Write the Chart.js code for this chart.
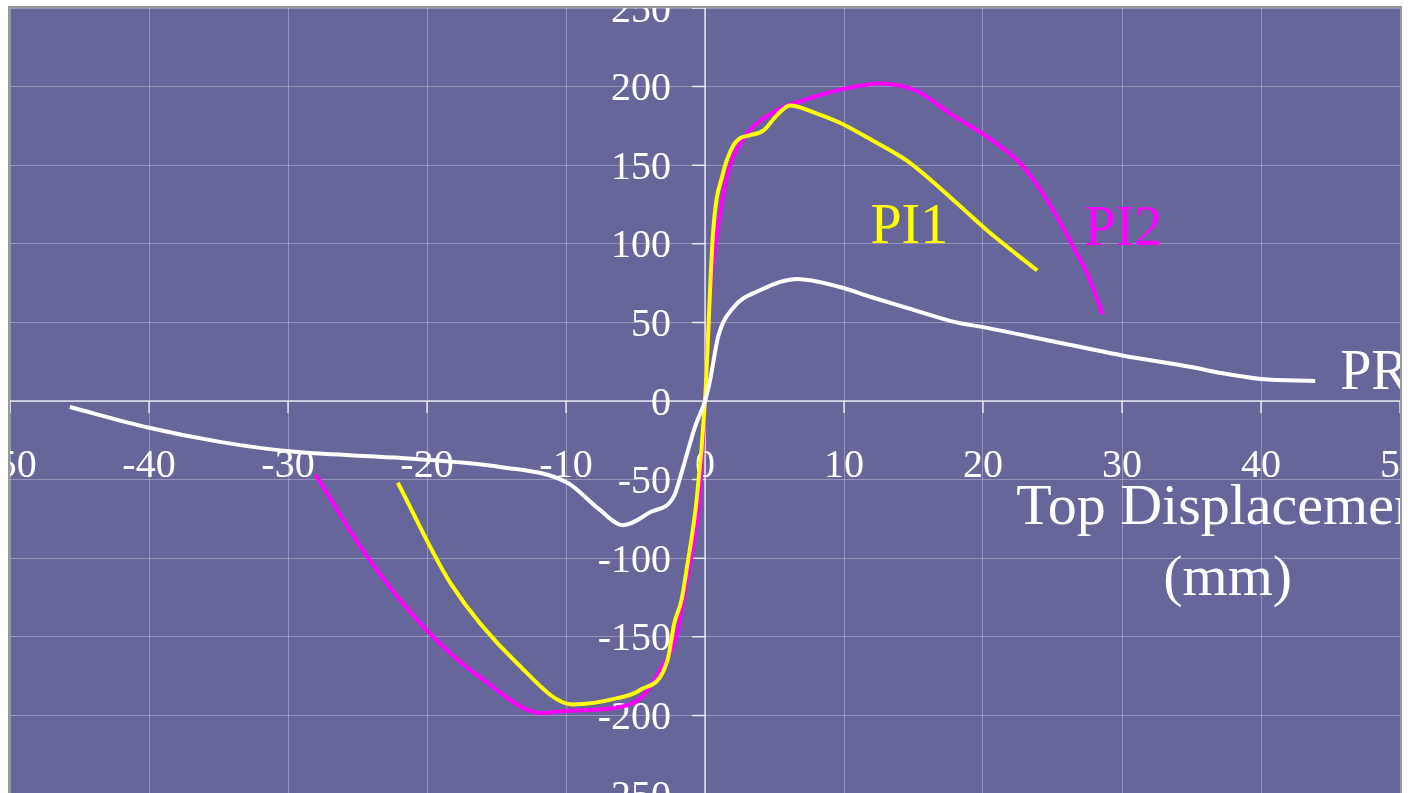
<!DOCTYPE html>
<html>
<head>
<meta charset="utf-8">
<script src="https://cdn.jsdelivr.net/npm/chart.js@4.4.1/dist/chart.umd.min.js"></script>
<style>
  html, body { margin: 0; padding: 0; background: #fff; overflow: hidden; }
  canvas { display: block; }
</style>
</head>
<body>
<canvas id="chart" width="1408" height="796"></canvas>
<script>
// axis ticks
const xTicks = [-50, -40, -30, -20, -10, 0, 10, 20, 30, 40, 50];
const yTicks = [-250, -200, -150, -100, -50, 0, 50, 100, 150, 200, 250];

// PR (white)
const prX = [-45.7, -40, -34.9, -29.9, -22.4, -14.7, -9.9, -7.6, -5.9, -4, -2.2, -1.7, -0.7, 0,
             0.36, 0.95, 2, 4, 6.6, 9.7, 12, 15, 18.1, 20, 25, 30, 35, 37, 40, 43.9];
const prY = [-3.8, -17, -26, -32, -36, -42, -52, -69, -79, -71, -60, -46, -16, 0,
             13, 41, 59, 70.6, 77.6, 72.5, 66, 58, 50, 47, 38, 29, 21.6, 18, 14, 12.7];

// PI1 (yellow)
const pi1X = [-22.1, -18.3, -13.5, -9.5, -6.3, -4.7, -2.7, -2.2, -1.7, -1.3, -0.6, 0,
              0.58, 1.3, 2, 2.5, 3.2, 4.2, 5.2, 6.1, 8, 9.7, 12, 14.5, 17.6, 20.5, 23.9];
const pi1Y = [-52, -116, -167, -193, -189, -184, -165, -141, -127, -106, -63, 0,
              107, 145, 162, 167, 169, 172, 182, 188, 183, 177, 166, 153, 130, 107, 83];

// PI2 (magenta)
const pi2X = [-28, -24.3, -20, -16, -11.7, -9.9, -6.3, -4.5, -3.2, -2, -1.6, -0.9, -0.4, 0,
              0.36, 0.8, 1.6, 2.7, 5.2, 7, 9.7, 12.6, 15.3, 17.6, 20.3, 22.7, 24.6, 26.5, 27.7, 28.6];
const pi2Y = [-47, -99, -146, -177, -198.5, -197, -195, -188, -171, -148, -128, -95, -63, 0,
              66, 102, 143, 166, 185, 191, 198, 202, 197, 183, 168, 151, 128, 98, 77, 55];

const seriesNames = ['PR', 'PI1', 'PI2'];
const axisTitle = ['Top Displacement', '(mm)'];

// colours
const C = {
  plot:    '#66669a',
  grid:    'rgba(255,255,255,0.3)',
  axis:    'rgba(255,255,255,0.8)',
  frame:   '#999999',
  text:    '#ffffff',
  pr:      '#ffffff',
  pi1:     '#ffff00',
  pi2:     '#ff00ff',
};
const FONT = "'Liberation Serif', 'Times New Roman', serif";

function toPoints(xs, ys) {
  return xs.map((x, i) => ({ x, y: ys[i] }));
}

function clipArea(ctx, a) {
  ctx.beginPath();
  ctx.rect(a.left, a.top, a.right - a.left, a.bottom - a.top);
  ctx.clip();
}

// ── background, zero axes, tick labels, annotations ─────────
const decor = {
  id: 'decor',
  beforeDraw(chart) {
    const { ctx, chartArea: a } = chart;
    ctx.save();
    ctx.fillStyle = C.plot;
    ctx.fillRect(a.left, a.top, a.right - a.left, a.bottom - a.top);
    ctx.restore();
  },
  beforeDatasetsDraw(chart) {
    const { ctx, chartArea: a, scales: { x, y } } = chart;
    const x0 = x.getPixelForValue(0), y0 = y.getPixelForValue(0);
    ctx.save();
    clipArea(ctx, a);

    ctx.strokeStyle = C.axis;
    ctx.lineWidth = 1.5;
    ctx.beginPath();
    ctx.moveTo(a.left, y0); ctx.lineTo(a.right, y0);
    ctx.moveTo(x0, a.top);  ctx.lineTo(x0, a.bottom);
    xTicks.forEach(v => {
      const px = x.getPixelForValue(v);
      ctx.moveTo(px, y0); ctx.lineTo(px, y0 + 12);
    });
    yTicks.forEach(v => {
      const py = y.getPixelForValue(v);
      ctx.moveTo(x0 - 13, py); ctx.lineTo(x0, py);
    });
    ctx.stroke();

    ctx.fillStyle = C.text;
    ctx.font = `40px ${FONT}`;
    ctx.textBaseline = 'alphabetic';
    ctx.textAlign = 'center';
    xTicks.forEach(v => ctx.fillText(String(v), x.getPixelForValue(v), y0 + 76));
    ctx.textAlign = 'right';
    yTicks.forEach(v => ctx.fillText(String(v), x0 - 34, y.getPixelForValue(v) + 13.5));
    ctx.restore();
  },
  afterDatasetsDraw(chart) {
    const { ctx, chartArea: a, scales: { x, y } } = chart;
    ctx.save();
    clipArea(ctx, a);
    ctx.textBaseline = 'alphabetic';

    // series names
    ctx.font = `56px ${FONT}`;
    ctx.textAlign = 'left';
    const spots = { PR: [45.7, 7.6, C.pr], PI1: [11.9, 100.5, C.pi1], PI2: [27.3, 99.2, C.pi2] };
    seriesNames.forEach(n => {
      const [vx, vy, col] = spots[n];
      ctx.fillStyle = col;
      ctx.fillText(n, x.getPixelForValue(vx), y.getPixelForValue(vy));
    });

    // axis title
    ctx.font = `58px ${FONT}`;
    ctx.textAlign = 'center';
    ctx.fillStyle = C.text;
    const tx = x.getPixelForValue(37.6);
    ctx.fillText(axisTitle[0], tx, y.getPixelForValue(-78.2));
    ctx.fillText(axisTitle[1], tx, y.getPixelForValue(-123.4));
    ctx.restore();

    // frame
    ctx.save();
    ctx.strokeStyle = C.frame;
    ctx.lineWidth = 2;
    ctx.strokeRect(a.left - 1, a.top - 1, a.right - a.left + 2, a.bottom - a.top + 2);
    ctx.restore();
  }
};

const lineStyle = { borderWidth: 4, pointRadius: 0, cubicInterpolationMode: 'monotone', fill: false };

new Chart(document.getElementById('chart'), {
  type: 'scatter',
  data: {
    datasets: [
      { label: 'PR',  data: toPoints(prX, prY),   borderColor: C.pr,  showLine: true, ...lineStyle },
      { label: 'PI1', data: toPoints(pi1X, pi1Y), borderColor: C.pi1, showLine: true, ...lineStyle },
      { label: 'PI2', data: toPoints(pi2X, pi2Y), borderColor: C.pi2, showLine: true, ...lineStyle },
    ]
  },
  options: {
    responsive: false,
    animation: false,
    events: [],
    layout: { padding: { left: 10, right: 8, top: 8, bottom: 2 } },
    plugins: { legend: { display: false }, tooltip: { enabled: false } },
    scales: {
      x: {
        type: 'linear', min: -50, max: 50,
        ticks: { display: false, stepSize: 10 },
        grid: { color: C.grid, lineWidth: 1, drawTicks: false },
        border: { display: false },
      },
      y: {
        type: 'linear', min: -250, max: 250,
        ticks: { display: false, stepSize: 50 },
        grid: { color: C.grid, lineWidth: 1, drawTicks: false },
        border: { display: false },
      }
    }
  },
  plugins: [decor]
});
</script>
</body>
</html>
